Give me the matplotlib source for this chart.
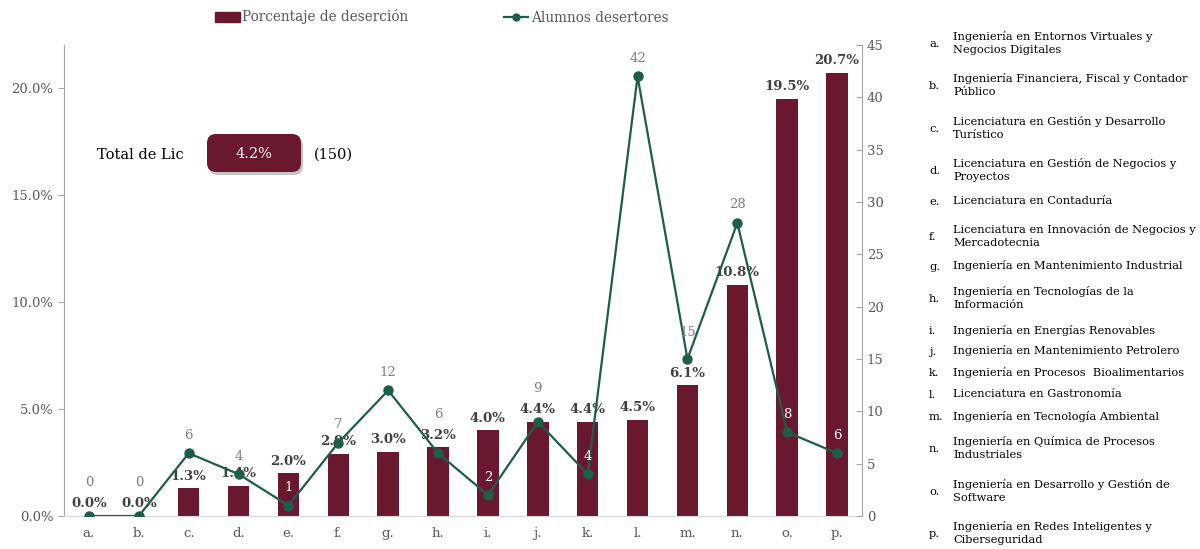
import matplotlib.pyplot as plt
import matplotlib.transforms as mtransforms
from matplotlib.patches import FancyBboxPatch, Patch
from matplotlib.lines import Line2D
import numpy as np

plt.rcParams['font.family'] = ['DejaVu Serif']

# datos
categorias = ['a.', 'b.', 'c.', 'd.', 'e.', 'f.', 'g.', 'h.',
              'i.', 'j.', 'k.', 'l.', 'm.', 'n.', 'o.', 'p.']
porcentaje = [0.0, 0.0, 1.3, 1.4, 2.0, 2.9, 3.0, 3.2,
              4.0, 4.4, 4.4, 4.5, 6.1, 10.8, 19.5, 20.7]
alumnos = [0, 0, 6, 4, 1, 7, 12, 6, 2, 9, 4, 42, 15, 28, 8, 6]
programas = [
    'Ingeniería en Entornos Virtuales y\nNegocios Digitales',
    'Ingeniería Financiera, Fiscal y Contador\nPúblico',
    'Licenciatura en Gestión y Desarrollo\nTurístico',
    'Licenciatura en Gestión de Negocios y\nProyectos',
    'Licenciatura en Contaduría',
    'Licenciatura en Innovación de Negocios y\nMercadotecnia',
    'Ingeniería en Mantenimiento Industrial',
    'Ingeniería en Tecnologías de la\nInformación',
    'Ingeniería en Energías Renovables',
    'Ingeniería en Mantenimiento Petrolero',
    'Ingeniería en Procesos  Bioalimentarios',
    'Licenciatura en Gastronomía',
    'Ingeniería en Tecnología Ambiental',
    'Ingeniería en Química de Procesos\nIndustriales',
    'Ingeniería en Desarrollo y Gestión de\nSoftware',
    'Ingeniería en Redes Inteligentes y\nCiberseguridad',
]
total_pct = 4.2

guinda = '#6a1830'
verde = '#1e5e48'
gris = '#595959'

W, H = 1200, 549
fig = plt.figure(figsize=(W / 100, H / 100), dpi=100)
ax_alto = 516 - 45
ax = fig.add_axes([64 / W, (H - 516) / H, (862 - 64) / W, ax_alto / H])
x = np.arange(len(categorias))

ax.bar(x, porcentaje, width=0.43, color=guinda, zorder=2)
ax.set_xlim(-0.5, len(categorias) - 0.5)
ax.set_ylim(0, 22)
ax.set_yticks([0, 5, 10, 15, 20])
ax.set_yticklabels([f'{v:.1f}%' for v in [0, 5, 10, 15, 20]])
ax.set_xticks(x)
ax.set_xticklabels(categorias)
ax.tick_params(axis='y', colors='#a6a6a6', labelcolor=gris, labelsize=9.5, length=4)
ax.tick_params(axis='x', length=0, labelcolor=gris, labelsize=9.5, pad=8)
for s in ['top', 'right']:
    ax.spines[s].set_visible(False)
ax.spines['left'].set_color('#a6a6a6')
ax.spines['bottom'].set_color('#d9d9d9')

for xi, p in zip(x, porcentaje):
    ax.annotate(f'{p:.1f}%', (xi, p), xytext=(0, 4), textcoords='offset points',
                ha='center', va='bottom', fontsize=9.5, fontweight='bold',
                color='#404040', zorder=3)

ax2 = ax.twinx()
ax2.plot(x, alumnos, color=verde, lw=1.6, marker='o', ms=6.5, zorder=4)
ax2.set_ylim(0, 45)
ax2.set_yticks(range(0, 50, 5))
ax2.tick_params(axis='y', colors='#a6a6a6', labelcolor=gris, labelsize=9.5,
                length=4, direction='in')
for s in ['top', 'left', 'bottom']:
    ax2.spines[s].set_visible(False)
ax2.spines['right'].set_color('#a6a6a6')

# etiquetas de la linea: se suben si chocan con la etiqueta de la barra
px_pct = ax_alto / 22
px_num = ax_alto / 45
for xi, n, p in zip(x, alumnos, porcentaje):
    y_barra = p * px_pct + 13
    y_lab = n * px_num + 18
    if abs(y_lab - y_barra) < 14:
        y_lab = y_barra + 20
    elif 25 < y_lab - y_barra < 35:
        y_lab += 8
    dentro = y_lab + 6 < p * px_pct
    ax2.annotate(str(n), (xi, n), xytext=(0, (y_lab - n * px_num) * 0.72),
                 textcoords='offset points', ha='center', va='center', fontsize=9.5,
                 color='white' if dentro else '#7f7f7f', zorder=5)

# leyenda
handles = [Patch(color=guinda, label='Porcentaje de deserción'),
           Line2D([], [], color=verde, lw=1.6, marker='o', ms=5, label='Alumnos desertores')]
fig.legend(handles=handles, loc='center', bbox_to_anchor=(442 / W, 1 - 17 / H),
           ncol=2, frameon=False, columnspacing=7, handlelength=1.8,
           handletextpad=0.2, labelcolor=gris, fontsize=9.8)

# total
fig.text(97 / W, 1 - 155 / H, 'Total de Lic', ha='left', va='center',
         fontsize=10.5, color='black')
px = mtransforms.IdentityTransform()
sombra = FancyBboxPatch((209, H - 175), 94, 38, boxstyle='round,pad=0,rounding_size=9',
                        fc='#7f7f7f', ec='none', alpha=0.45, transform=px)
caja = FancyBboxPatch((207, H - 172), 94, 38, boxstyle='round,pad=0,rounding_size=9',
                      fc=guinda, ec='none', transform=px)
fig.patches.extend([sombra, caja])
fig.text(254 / W, 1 - 154 / H, f'{total_pct:.1f}%', ha='center', va='center',
         fontsize=10.5, color='#f2f2f2')
fig.text(314 / W, 1 - 155 / H, f'({sum(alumnos)})', ha='left', va='center',
         fontsize=10.5, color='black')

# lista de programas
y_lista = [43, 85, 128, 170, 201, 236, 266, 298, 330, 351, 372, 394, 416, 448, 491, 533]
for c, nombre, yy in zip(categorias, programas, y_lista):
    fig.text(929 / W, 1 - (yy + 1) / H, c, ha='left', va='center', fontsize=8.2, color='black')
    fig.text(953 / W, 1 - yy / H, nombre, ha='left', va='center', fontsize=8.2,
             color='black', linespacing=1.35)

fig.savefig('out.png', dpi=100)
